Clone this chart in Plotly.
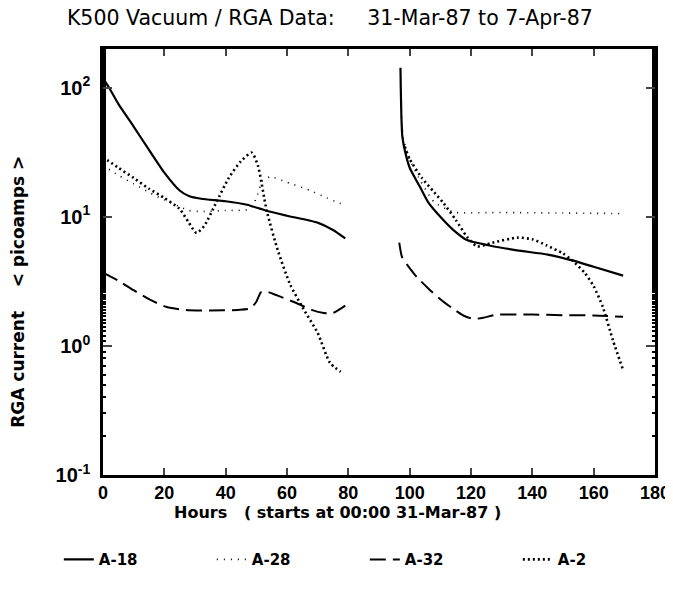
import plotly.graph_objects as go

# ---- data (hours since 00:00 31-Mar-87, RGA current in picoamps) ----
a18_x = [0, 2, 5, 10, 15, 20, 25, 28, 32, 40, 47, 53, 60, 70, 75, 79,
         None,
         97, 97.1, 97.3, 97.6, 98.5, 100, 103.4, 106, 110, 114, 118.7, 126, 135, 145, 153, 160, 169.6]
a18_y = [118, 100, 75, 50, 33, 22, 16, 14.5, 13.8, 13.2, 12.4, 11.2, 10.2, 9.0, 7.9, 6.8,
         None,
         143, 100, 60, 42, 32, 24, 17, 13, 10, 8, 6.6, 6.0, 5.5, 5.1, 4.6, 4.1, 3.5]

a28_x = [0, 5, 10, 15, 20, 25, 28, 32, 40, 48, 50, 52, 54.5, 60, 67.5, 73, 77, 79,
         None,
         97.3, 98, 100, 103, 108, 113, 115, 130, 150, 169]
a28_y = [25, 21, 18, 15.5, 13.5, 12, 11.2, 11.0, 11.2, 11.5, 14, 19, 20.4, 18.5, 16, 14, 12.8, 12.4,
         None,
         60, 40, 28, 20, 13, 11.2, 10.8, 10.8, 10.7, 10.6]

a32_x = [0, 5, 10, 15, 20.8, 27, 35, 44, 48, 50, 51.5, 53, 57, 64, 68, 72, 75, 79,
         None,
         96.6, 97.5, 100, 102.4, 106, 110, 114, 117.5, 120.7, 124, 128, 140, 150, 160, 169.6]
a32_y = [3.7, 3.2, 2.7, 2.3, 2.0, 1.9, 1.88, 1.9, 1.95, 2.2, 2.6, 2.65, 2.45, 2.1, 1.9, 1.8, 1.8, 2.05,
         None,
         6.3, 4.9, 4.0, 3.4, 2.8, 2.3, 1.95, 1.72, 1.62, 1.65, 1.74, 1.75, 1.73, 1.72, 1.68]

a2_x = [0, 5, 10, 15, 20, 25, 28, 30.5, 33, 37, 41, 45, 48.5, 50.5, 53.4, 57, 61, 65, 70, 74, 77.5,
        None,
        98.4, 100, 104, 108, 111, 115, 118.7, 122, 127, 135, 140, 144.7, 150, 153, 157, 160, 163, 166.3, 169.6]
a2_y = [29, 24, 20, 16.5, 14, 11.5, 9.0, 7.5, 8.5, 13, 20, 27, 31.4, 25, 11.1, 5.5, 3.0, 2.0, 1.26, 0.74, 0.63,
        None,
        35, 28, 20, 15.5, 12.8, 9.5, 7.0, 5.9, 6.3, 6.9, 6.7, 6.0, 5.2, 4.6, 3.7, 2.9, 2.0, 1.1, 0.65]

series = [
    ("A-18", a18_x, a18_y, dict(color="black", width=2.2, dash="solid")),
    ("A-28", a28_x, a28_y, dict(color="black", width=1.6, dash="1px,6px")),
    ("A-32", a32_x, a32_y, dict(color="black", width=2.0, dash="16px,7px")),
    ("A-2", a2_x, a2_y, dict(color="black", width=2.6, dash="2px,3px")),
]

y_tickvals = [0.1, 1, 10, 100]
y_ticktext = ["10<sup>-1</sup>", "10<sup>0</sup>", "10<sup>1</sup>", "10<sup>2</sup>"]
x_tickvals = [0, 20, 40, 60, 80, 100, 120, 140, 160, 180]

fig = go.Figure()
for name, xs, ys, ln in series:
    fig.add_trace(go.Scatter(x=xs, y=ys, name=name, mode="lines",
                             line=dict(shape="spline", smoothing=0.6, **ln),
                             connectgaps=False))

# page body has an 8px margin, so the figure is sized to fit inside the window
fig.update_layout(
    width=665, height=566,
    paper_bgcolor="white", plot_bgcolor="white",
    margin=dict(l=95, r=18, t=41, b=99, autoexpand=False),
    font=dict(family="DejaVu Sans, Liberation Sans, sans-serif", color="black"),
    title=dict(text="K500 Vacuum / RGA Data:\u00a0\u00a0\u00a0\u00a0 31-Mar-87 to 7-Apr-87",
               x=0.484, xanchor="center", y=0.982, yanchor="middle",
               font=dict(family="DejaVu Sans", size=20.5, color="black")),
    showlegend=True,
    legend=dict(orientation="h", x=-0.08, xanchor="left", y=-0.16, yanchor="top",
                entrywidth=108, entrywidthmode="pixels",
                font=dict(size=15, weight="bold"), bgcolor="rgba(0,0,0,0)"),
    annotations=[
        dict(text="Hours\u00a0\u00a0 ( starts at 00:00 31-Mar-87 )",
             xref="paper", yref="paper", x=0.424, y=-0.088,
             xanchor="center", yanchor="middle", showarrow=False,
             font=dict(family="DejaVu Sans", size=16, weight="bold")),
        dict(text="RGA current\u00a0\u00a0\u00a0 < picoamps >",
             xref="paper", yref="paper", x=-0.154, y=0.43, textangle=-90,
             xanchor="center", yanchor="middle", showarrow=False,
             font=dict(family="DejaVu Sans", size=17, weight="bold")),
    ],
)
fig.update_xaxes(range=[0, 180], tickvals=x_tickvals, ticks="inside", ticklen=7,
                 tickwidth=2, showline=True, linewidth=2.5, linecolor="black",
                 mirror="ticks", showgrid=False, zeroline=False, automargin=False,
                 ticklabeloverflow="allow",
                 tickfont=dict(family="Liberation Sans", size=18, weight="bold"))
fig.update_yaxes(type="log", range=[-1, 2.3], tickvals=y_tickvals, ticktext=y_ticktext,
                 ticks="inside", ticklen=9, tickwidth=2, showline=True, linewidth=2.5,
                 linecolor="black", mirror="ticks", showgrid=False, zeroline=False,
                 ticklabelstandoff=6, automargin=False,
                 minor=dict(ticks="inside", ticklen=3, tickwidth=1.5, tickcolor="black",
                            showgrid=False),
                 tickfont=dict(family="Liberation Sans", size=20, weight="bold"))

fig.write_html("out.html")
